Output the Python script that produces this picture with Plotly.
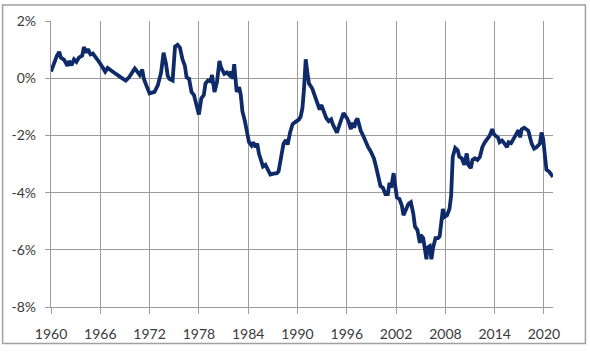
import plotly.graph_objects as go

years = [
    1960.0, 1960.4, 1960.7, 1961.0, 1961.2, 1961.6, 1962.0, 1962.2, 1962.5, 1962.8,
    1963.1, 1963.4, 1963.8, 1964.0, 1964.3, 1964.5, 1964.8, 1965.1, 1965.5, 1965.9,
    1966.3, 1966.6, 1966.9, 1967.3, 1967.9, 1968.5, 1969.1, 1969.5, 1969.9, 1970.2,
    1970.5, 1970.8, 1971.1, 1971.3, 1971.6, 1972.0, 1972.6, 1973.0, 1973.4, 1973.7,
    1974.0, 1974.2, 1974.4, 1974.8, 1975.1, 1975.4, 1975.7, 1976.0, 1976.3, 1976.5,
    1976.8, 1977.1, 1977.4, 1977.7, 1978.0, 1978.3, 1978.6, 1978.8, 1979.1, 1979.4,
    1979.6, 1979.9, 1980.2, 1980.5, 1980.7, 1981.1, 1981.4, 1981.7, 1981.9, 1982.1,
    1982.3, 1982.6, 1982.9, 1983.1, 1983.3, 1983.6, 1983.8, 1984.1, 1984.4, 1984.6,
    1984.9, 1985.1, 1985.3, 1985.6, 1985.8, 1986.1, 1986.4, 1986.7, 1987.1, 1987.5,
    1987.7, 1987.9, 1988.3, 1988.6, 1988.8, 1989.1, 1989.4, 1989.6, 1989.9, 1990.2,
    1990.4, 1990.6, 1990.8, 1991.0, 1991.2, 1991.4, 1991.8, 1992.2, 1992.5, 1992.7,
    1992.9, 1993.2, 1993.5, 1993.8, 1994.1, 1994.3, 1994.6, 1994.8, 1995.0, 1995.3,
    1995.6, 1996.0, 1996.2, 1996.5, 1996.7, 1996.9, 1997.1, 1997.3, 1997.5, 1997.7,
    1998.0, 1998.3, 1998.6, 1998.9, 1999.3, 1999.6, 1999.9, 2000.1, 2000.4, 2000.7,
    2001.0, 2001.2, 2001.4, 2001.7, 2001.9, 2002.1, 2002.4, 2002.7, 2002.9, 2003.3,
    2003.5, 2003.8, 2004.1, 2004.3, 2004.6, 2004.9, 2005.0, 2005.3, 2005.4, 2005.7,
    2005.8, 2006.1, 2006.3, 2006.5, 2006.8, 2007.1, 2007.3, 2007.5, 2007.7, 2007.9,
    2008.2, 2008.5, 2008.7, 2008.9, 2009.2, 2009.5, 2009.7, 2010.0, 2010.3, 2010.6,
    2010.8, 2011.1, 2011.3, 2011.6, 2011.9, 2012.2, 2012.5, 2012.8, 2013.1, 2013.4,
    2013.7, 2013.9, 2014.1, 2014.4, 2014.6, 2014.9, 2015.2, 2015.5, 2015.7, 2016.0,
    2016.3, 2016.6, 2016.9, 2017.1, 2017.3, 2017.6, 2017.8, 2018.1, 2018.3, 2018.5,
    2018.8, 2019.1, 2019.5, 2019.7, 2019.9, 2020.1, 2020.3, 2020.6, 2020.9, 2021.1,
]

values = [
    0.23, 0.55, 0.77, 0.92, 0.72, 0.64, 0.43, 0.60, 0.45, 0.66,
    0.57, 0.72, 0.79, 1.09, 0.89, 1.02, 0.83, 0.86, 0.72, 0.55,
    0.37, 0.23, 0.36, 0.26, 0.15, 0.03, -0.08, 0.03, 0.20, 0.34,
    0.23, 0.11, 0.30, -0.02, -0.25, -0.53, -0.48, -0.25, 0.20, 0.89,
    0.50, 0.09, -0.02, -0.08, 1.11, 1.17, 1.06, 0.66, 0.43, 0.03,
    -0.02, -0.48, -0.59, -0.93, -1.27, -0.70, -0.59, -0.19, -0.08, -0.11,
    0.11, -0.48, -0.14, 0.60, 0.37, 0.15, 0.20, 0.11, 0.23, -0.02,
    0.49, -0.48, -0.31, -0.59, -1.16, -1.50, -1.84, -2.24, -2.35, -2.24,
    -2.41, -2.29, -2.63, -2.86, -3.09, -3.03, -3.20, -3.37, -3.34, -3.32,
    -3.26, -2.86, -2.29, -2.16, -2.32, -1.90, -1.61, -1.56, -1.50, -1.44,
    -1.33, -1.05, -0.36, 0.66, 0.20, -0.19, -0.36, -0.65, -0.88, -1.10,
    -0.93, -1.16, -1.39, -1.50, -1.44, -1.61, -1.78, -1.90, -1.73, -1.50,
    -1.22, -1.39, -1.50, -1.78, -1.56, -1.73, -1.50, -1.41, -1.61, -1.84,
    -2.01, -2.24, -2.41, -2.55, -2.80, -3.14, -3.49, -3.77, -3.83, -4.05,
    -4.05, -3.66, -3.83, -3.32, -3.77, -4.17, -4.22, -4.45, -4.79, -4.57,
    -4.40, -4.34, -4.74, -5.19, -5.31, -5.76, -5.48, -5.59, -5.82, -6.33,
    -5.93, -5.87, -6.33, -5.93, -5.59, -5.59, -5.53, -4.91, -4.57, -4.85,
    -4.79, -4.57, -4.11, -2.75, -2.44, -2.52, -2.75, -2.80, -3.03, -2.63,
    -3.03, -3.14, -2.86, -2.80, -2.86, -2.75, -2.41, -2.24, -2.12, -2.01,
    -1.78, -1.95, -2.01, -2.07, -2.24, -2.18, -2.29, -2.41, -2.24, -2.27,
    -2.12, -1.95, -1.82, -2.07, -1.78, -1.73, -1.78, -1.84, -2.07, -2.29,
    -2.46, -2.41, -2.29, -1.90, -2.12, -2.86, -3.20, -3.26, -3.37, -3.45,
]

x_tick_vals = [1960, 1966, 1972, 1978, 1984, 1990, 1996, 2002, 2008, 2014, 2020]
x_tick_text = ["1960", "1966", "1972", "1978", "1984", "1990", "1996", "2002", "2008", "2014", "2020"]
y_tick_vals = [-8, -6, -4, -2, 0, 2]
y_tick_text = ["-8%", "-6%", "-4%", "-2%", "0%", "2%"]

GRID = "#9c9c9c"
TEXT = "#3a3a3a"
FONT = "Lato, 'Open Sans', sans-serif"

fig = go.Figure()
fig.add_trace(go.Scatter(
    x=years, y=values, mode="lines",
    line=dict(color="#0e2a68", width=3.8),
    hoverinfo="skip", showlegend=False,
))

fig.update_layout(
    width=590, height=354,
    margin=dict(l=50, r=37, t=18, b=43),
    paper_bgcolor="white", plot_bgcolor="white",
    font=dict(family=FONT, size=14, color=TEXT),
    xaxis=dict(
        range=[1960, 2021.1], tickmode="array",
        tickvals=x_tick_vals, ticktext=x_tick_text,
        showgrid=True, gridcolor=GRID, gridwidth=1.2,
        showline=True, linecolor=GRID, linewidth=1.2,
        ticks="outside", ticklen=6, tickcolor=GRID, tickwidth=1.2,
        ticklabelstandoff=8,
        zeroline=False, fixedrange=True,
    ),
    yaxis=dict(
        range=[-8, 2], tickmode="array",
        tickvals=y_tick_vals, ticktext=y_tick_text,
        showgrid=True, gridcolor=GRID, gridwidth=1.2,
        showline=True, linecolor=GRID, linewidth=1.2,
        ticks="outside", ticklen=5, tickcolor=GRID, tickwidth=1.2,
        ticklabelstandoff=6,
        zeroline=False, fixedrange=True,
    ),
    shapes=[dict(
        type="rect", xref="paper", yref="paper",
        x0=-0.0964, x1=1.0646, y0=-0.1280, y1=1.0563,
        line=dict(color="#a0a0a0", width=1.5), fillcolor="rgba(0,0,0,0)",
        layer="below",
    )],
)

fig.write_html("out.html")
